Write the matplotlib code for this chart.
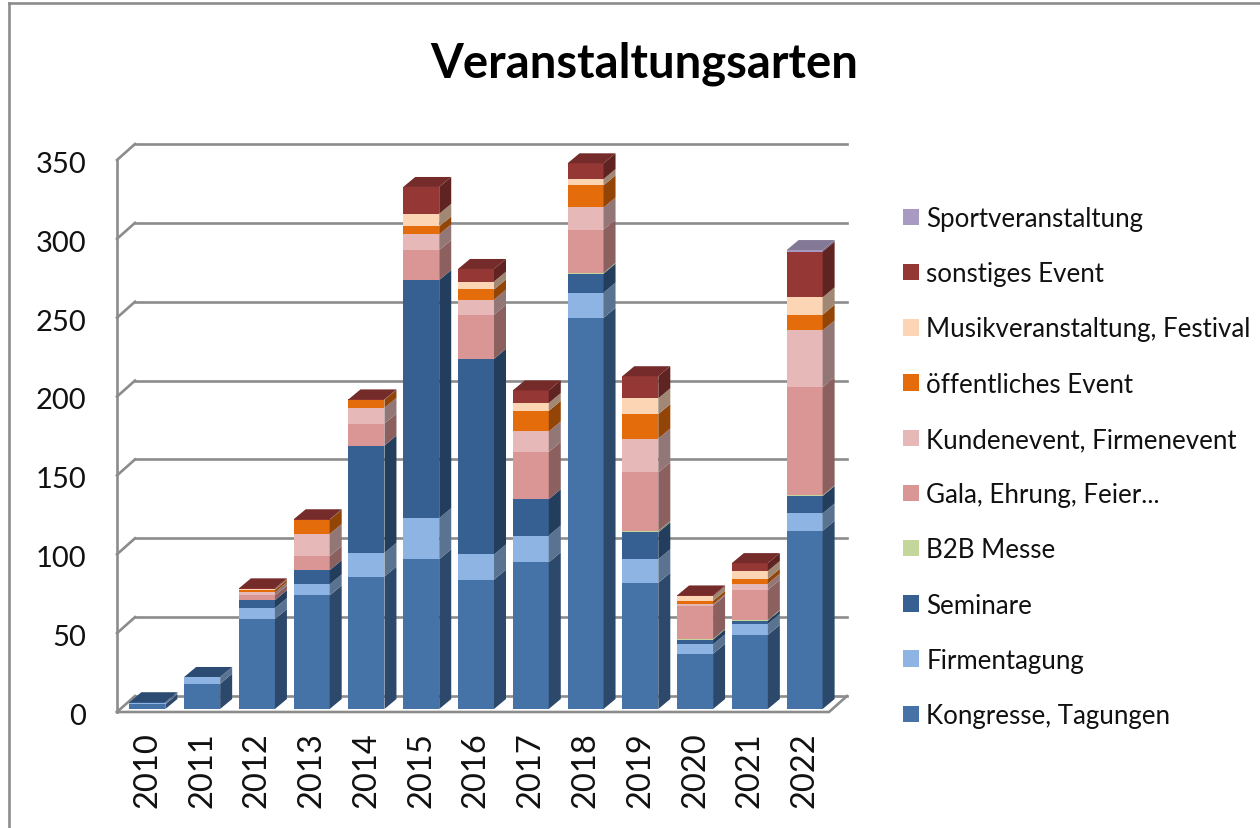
import numpy as np
import matplotlib
matplotlib.use("Agg")
import matplotlib.pyplot as plt
from matplotlib.patches import Patch, Polygon
from matplotlib.colors import to_rgb
from matplotlib.transforms import ScaledTranslation

plt.rcParams["font.family"] = ["Lato", "DejaVu Sans"]

years = ["2010", "2011", "2012", "2013", "2014", "2015", "2016",
         "2017", "2018", "2019", "2020", "2021", "2022"]
y_ticks = [0, 50, 100, 150, 200, 250, 300, 350]

series_names = ["Kongresse, Tagungen", "Firmentagung", "Seminare", "B2B Messe",
                "Gala, Ehrung, Feier...", "Kundenevent, Firmenevent",
                "öffentliches Event", "Musikveranstaltung, Festival",
                "sonstiges Event", "Sportveranstaltung"]
series_colors = ["#4572A7", "#8DB4E2", "#376092", "#C3D69B", "#D99694",
                 "#E6B9B8", "#E46C0A", "#FCD5B5", "#953735", "#A89AC0"]

kongresse = [3, 16, 57, 72, 84, 95, 82, 93, 248, 80, 35, 47, 113]
firmentagung = [1, 4, 7, 7, 15, 26, 16, 17, 16, 15, 6, 7, 11]
seminare = [0.3, 0.3, 5, 9, 68, 151, 124, 23, 12, 17, 3, 2, 11]
b2b = [0, 0, 0, 0, 0, 0, 0, 0, 0.6, 1, 0.5, 0.5, 0.5]
gala = [0, 0, 3, 9, 14, 19, 28, 30, 27.4, 37, 21, 19, 68.5]
kunde = [0, 0, 2, 14, 10, 10, 9.5, 13, 14, 21.5, 1, 4, 36]
oeffentlich = [0, 0, 1.5, 9, 5, 5, 6.5, 13, 14, 15.5, 2, 3, 10]
musik = [0, 0, 0.5, 0, 0, 8, 5, 5, 4, 10, 3, 5, 11]
sonstiges = [0, 0, 0.5, 0.3, 0.3, 17, 8, 8, 10, 14, 0.5, 5, 29]
sport = [0, 0, 0, 0, 0, 0, 0, 0, 0, 0, 0, 0, 1]
all_series = [kongresse, firmentagung, seminare, b2b, gala, kunde,
              oeffentlich, musik, sonstiges, sport]

W, H = 1260, 829
# front plane of the fake 3D box, in pixels
left, right, bottom, top = 117, 829, 713, 161
x_per_px = 13 / (right - left)
y_per_px = 350 / (bottom - top)

# depth offsets, converted from pixels to data units
wall_dx, wall_dy = 18 * x_per_px, 16 * y_per_px
bar_dx, bar_dy = 12 * x_per_px, 10 * y_per_px
inset_x, inset_y = 3 * x_per_px, 3 * y_per_px
bar_width = 36 * x_per_px

GRID = "#8C8C8C"
LW = 1.9


def shade(color, f):
    return tuple(c * f for c in to_rgb(color))


fig = plt.figure(figsize=(W / 100, H / 100), dpi=100)
ax = fig.add_axes([left / W, 1 - bottom / H, (right - left) / W, (bottom - top) / H])
ax.set_xlim(-0.5, 12.5)
ax.set_ylim(0, 350)
ax.patch.set_visible(False)
for s in ax.spines.values():
    s.set_visible(False)

# walls and floor
for v in y_ticks:
    ax.plot([-0.5 + wall_dx, 12.5 + wall_dx], [v + wall_dy] * 2, color=GRID, lw=LW,
            clip_on=False, zorder=1)
    ax.plot([-0.5, -0.5 + wall_dx], [v, v + wall_dy], color=GRID, lw=LW,
            clip_on=False, zorder=1)
ax.plot([-0.5, -0.5], [0, 350], color=GRID, lw=LW, clip_on=False, zorder=1)
ax.plot([-0.5, 12.5, 12.5 + wall_dx], [0, 0, wall_dy], color=GRID, lw=LW,
        clip_on=False, zorder=1)

# stacked bars with side and top faces
xpos = np.arange(len(years)) + inset_x
cum = np.full(len(years), inset_y)
for vals, col in zip(all_series, series_colors):
    vals = np.array(vals, dtype=float)
    ax.bar(xpos, vals, bottom=cum, width=bar_width, color=col, zorder=3, clip_on=False)
    for x, b, v in zip(xpos, cum, vals):
        if v == 0:
            continue
        xr = x + bar_width / 2
        ax.add_patch(Polygon([(xr, b), (xr + bar_dx, b + bar_dy),
                              (xr + bar_dx, b + v + bar_dy), (xr, b + v)],
                             facecolor=shade(col, 0.64), edgecolor="none",
                             clip_on=False, zorder=3))
    cum = cum + vals

# top face takes the colour of the last series present in each bar
for i, x in enumerate(xpos):
    last = [k for k, s in enumerate(all_series) if s[i] > 0][-1]
    xl, xr = x - bar_width / 2, x + bar_width / 2
    ax.add_patch(Polygon([(xl, cum[i]), (xr, cum[i]), (xr + bar_dx, cum[i] + bar_dy),
                          (xl + bar_dx, cum[i] + bar_dy)],
                         facecolor=shade(series_colors[last], 0.78), edgecolor="none",
                         clip_on=False, zorder=3))

ax.set_xticks(xpos, years, rotation=90, fontsize=23.5, color="#111111")
ax.set_yticks(y_ticks, [str(v) for v in y_ticks], fontsize=21, color="#111111")
ax.tick_params(axis="x", length=0, pad=14)
ax.tick_params(axis="y", length=0, pad=22)
# y labels sit a little below their lines
for lab in ax.get_yticklabels():
    lab.set_transform(lab.get_transform() + ScaledTranslation(0, -1 / 72, fig.dpi_scale_trans))

handles = [Patch(facecolor=c, edgecolor="none") for c in series_colors[::-1]]
fig.legend(handles, series_names[::-1], loc="upper left",
           bbox_to_anchor=(903 / W, 1 - 207 / H), frameon=False, fontsize=18.6,
           handlelength=0.6, handleheight=0.6, handletextpad=0.3,
           labelspacing=1.17, labelcolor="#111111", borderpad=0, borderaxespad=0)

fig.text(644 / W, 1 - 64 / H, "Veranstaltungsarten", ha="center", va="center",
         fontsize=34, fontweight="bold", color="black")

# chart frame
fig.add_artist(plt.Line2D([9 / W, 9 / W], [0, 1 - 3.5 / H], color=GRID, lw=LW))
fig.add_artist(plt.Line2D([9 / W, 1], [1 - 3.5 / H, 1 - 3.5 / H], color=GRID, lw=LW))

fig.savefig("out.png", dpi=100, facecolor="white")
